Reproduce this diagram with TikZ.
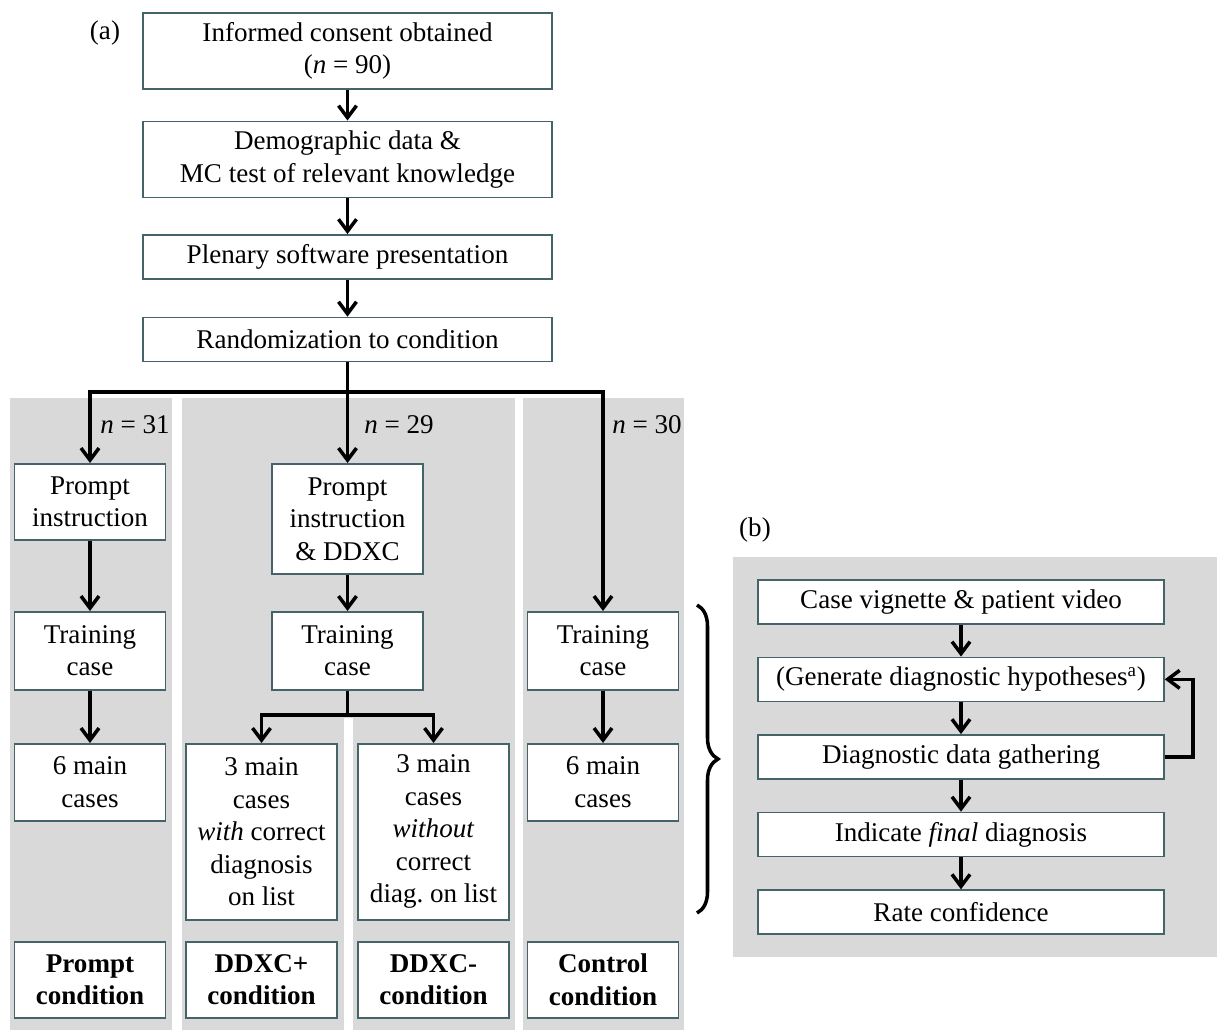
\documentclass[tikz,border=0pt]{standalone}
\usepackage{fontspec}
\setmainfont{Liberation Serif}
\usepackage{tikz}
\usetikzlibrary{arrows.meta, positioning, calc, decorations.pathreplacing}
\usepackage{xcolor}
\definecolor{panelGray}{HTML}{D9D9D9}
\definecolor{boxEdge}{HTML}{456469}
\newcommand{\boxfont}{\fontsize{15.4}{18.5}\selectfont}
\frenchspacing

\begin{document}
\begin{tikzpicture}[
    x=0.02cm, y=-0.02cm,
    font=\boxfont,
    box/.style={rectangle, draw=boxEdge, line width=0.9pt, fill=white, align=center, inner sep=0pt},
    wide/.style={box, minimum width=8.18cm},
    col/.style={box, minimum width=3.02cm, anchor=north},
    cond/.style={col, minimum height=1.52cm, font=\boxfont\bfseries},
    sub/.style={box, minimum width=8.12cm, minimum height=0.88cm},
    arrow/.style={-{Straight Barb[length=2.4mm,width=3.6mm]}, line width=2pt},
    link/.style={line width=2pt},
    panel/.style={fill=panelGray, draw=none},
    nlabel/.style={anchor=west, inner sep=0pt}
]
    \useasboundingbox (0,0) rectangle (1217,1030);

    % Grey condition panels
    \fill[panel] (10,398) rectangle (172,1030);
    \fill[panel] (182,398) rectangle (515,718);
    \fill[panel] (182,718) rectangle (344,1030);
    \fill[panel] (353,718) rectangle (515,1030);
    \fill[panel] (523,398) rectangle (684,1030);
    \fill[panel] (733,557) rectangle (1217,957);

    % Common steps
    \node[wide, minimum height=1.52cm, anchor=north] (consent) at (347.5,12) {Informed consent obtained\\(\textit{n} = 90)};
    \node[wide, minimum height=1.52cm, below=0.62cm of consent] (demo) {Demographic data \&\\MC test of relevant knowledge};
    \node[wide, minimum height=0.88cm, below=0.72cm of demo] (plenary) {Plenary software presentation};
    \node[wide, minimum height=0.88cm, below=0.74cm of plenary] (random) {Randomization to condition};
    \node (lbla) at (105,33) {(a)};

    % Conditions
    \node[col, minimum height=1.52cm] (prompt) at (90,463) {Prompt\\instruction};
    \node[col, minimum height=2.2cm] (pdd) at (347.5,463) {Prompt\\instruction\\\& DDXC};
    \node[col, minimum height=1.56cm] (train1) at (90,611) {Training\\case};
    \node[col, minimum height=1.56cm] (train2) at (347.5,611) {Training\\case};
    \node[col, minimum height=1.56cm] (train3) at (603,611) {Training\\case};
    \node[col, minimum height=1.54cm] (main1) at (90,743) {6 main\\cases};
    \node[col, minimum height=3.52cm] (withl) at (261.5,743) {3 main\\cases\\\textit{with} correct\\diagnosis\\on list};
    \node[col, minimum height=3.52cm] (without) at (433.5,743) {3 main\\cases\\\textit{without}\\correct\\diag. on list};
    \node[col, minimum height=1.54cm] (main3) at (603,743) {6 main\\cases};

    \node[cond] (condp) at (90,941) {Prompt\\condition};
    \node[cond] (condplus) at (261.5,941) {DDXC+\\condition};
    \node[cond] (condminus) at (433.5,941) {DDXC-\\condition};
    \node[cond] (condc) at (603,941) {Control\\condition};

    % Group sizes
    \node[nlabel] (n1) at (100,425) {\textit{n} = 31};
    \node[nlabel] (n2) at (364,425) {\textit{n} = 29};
    \node[nlabel] (n3) at (612,425) {\textit{n} = 30};

    % Arrows
    \draw[arrow] (consent) -- (demo);
    \draw[arrow] (demo) -- (plenary);
    \draw[arrow] (plenary) -- (random);
    \coordinate (split) at (347.5,392);
    \draw[link] (random) -- (split);
    \draw[arrow] (split) -| (prompt);
    \draw[arrow] (split) -- (pdd);
    \draw[arrow] (split) -| (train3);
    \draw[arrow] (prompt) -- (train1);
    \draw[arrow] (pdd) -- (train2);
    \draw[arrow] (train1) -- (main1);
    \draw[arrow] (train3) -- (main3);
    \coordinate (fork) at (347.5,715);
    \draw[link] (train2) -- (fork);
    \draw[arrow] (fork) -| (withl);
    \draw[arrow] (fork) -| (without);

    % Case procedure
    \node (lblb) at (755,530) {(b)};
    \node[sub, anchor=north] (vignette) at (961,579) {Case vignette \& patient video};
    \node[sub, below=0.64cm of vignette] (hypo) {(Generate diagnostic hypotheses\textsuperscript{a})};
    \node[sub, below=0.64cm of hypo] (gather) {Diagnostic data gathering};
    \node[sub, below=0.64cm of gather] (final) {Indicate \textit{final} diagnosis};
    \node[sub, below=0.64cm of final] (rate) {Rate confidence};

    \draw[arrow] (vignette) -- (hypo);
    \draw[arrow] (hypo) -- (gather);
    \draw[arrow] (gather) -- (final);
    \draw[arrow] (final) -- (rate);
    \draw[arrow] (gather.east) -- ++(28,0) |- (hypo.east);

    % Brace
    \coordinate (braceTop) at (697,605);
    \coordinate (braceBot) at (697,913);
    \draw[line width=2pt, decorate, decoration={brace, amplitude=0.42cm}] (braceTop) -- (braceBot);
\end{tikzpicture}
\end{document}
